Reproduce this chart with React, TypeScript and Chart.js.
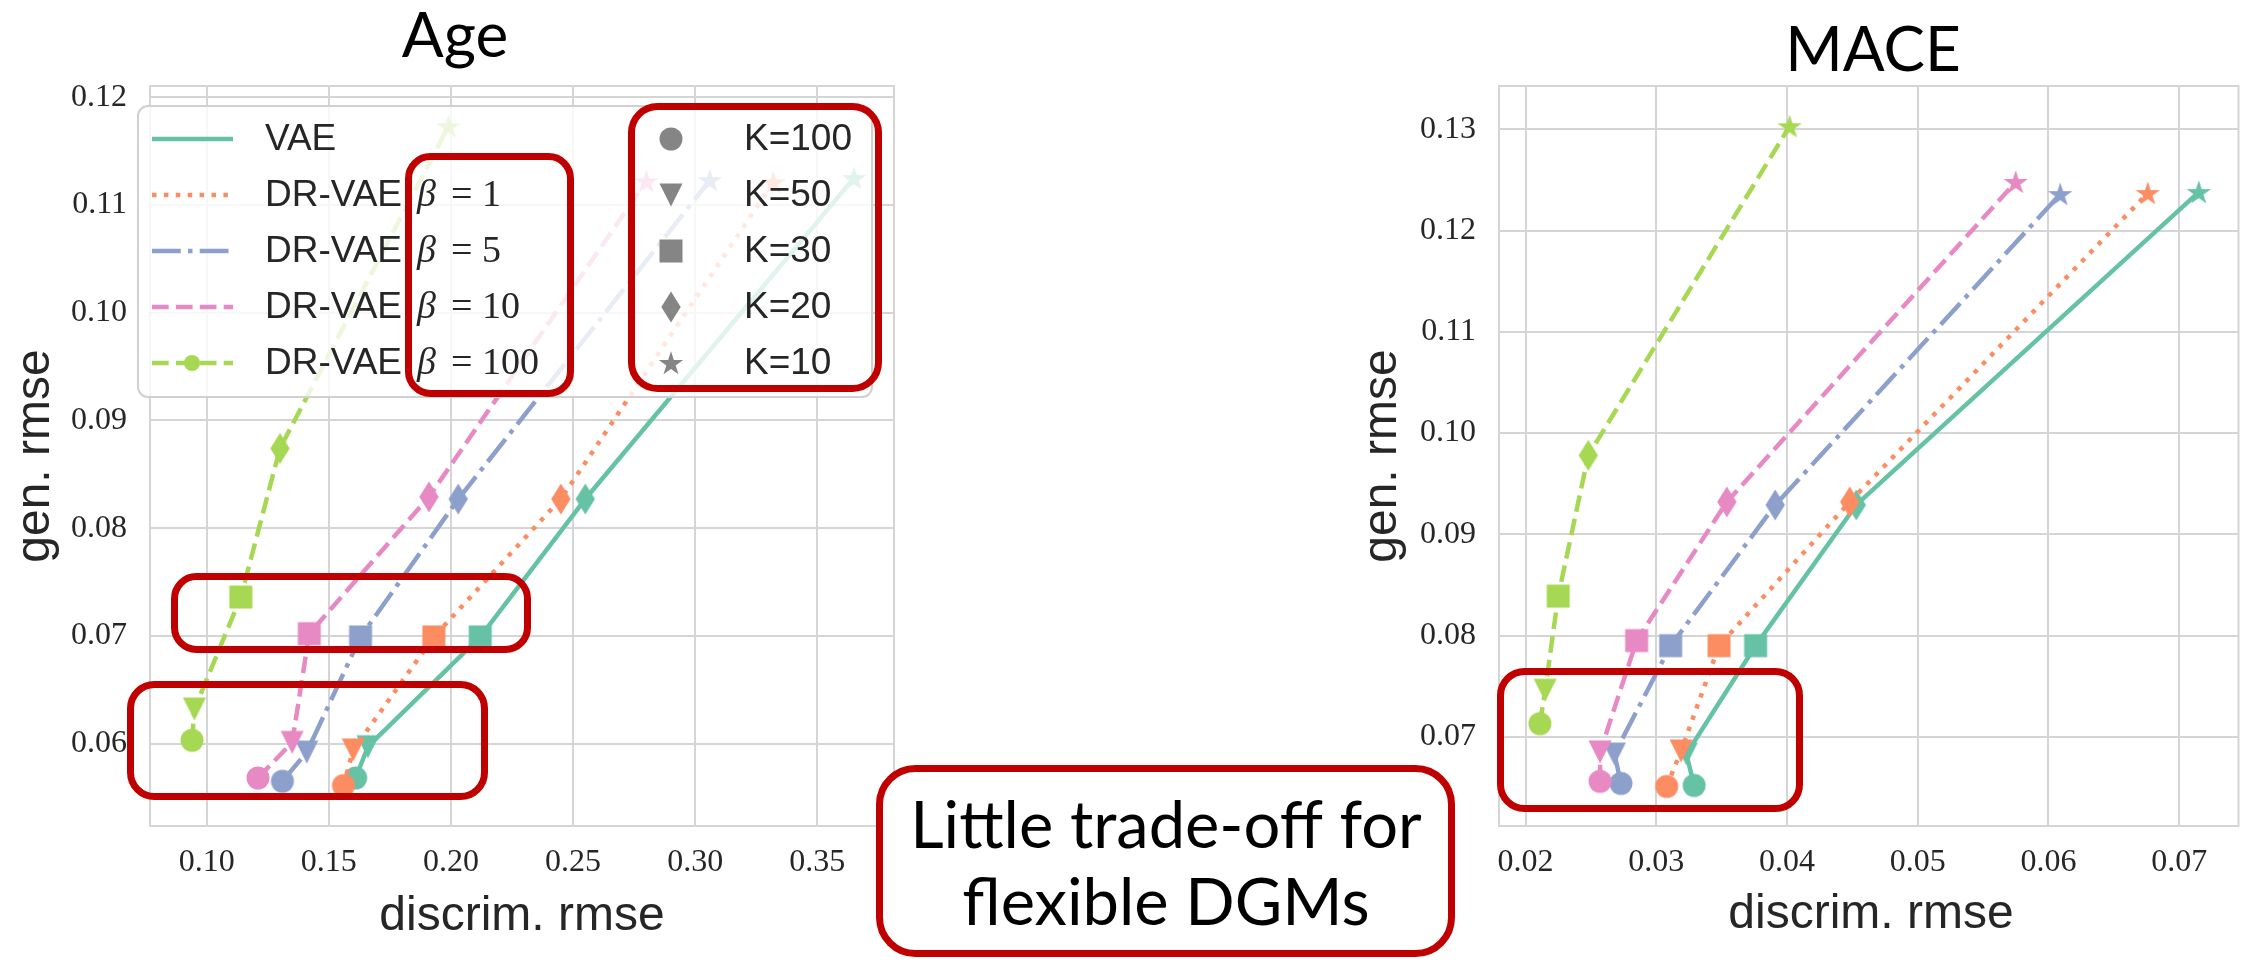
import React, { useEffect, useRef } from 'react';
import { Chart, registerables } from 'chart.js';

Chart.register(...registerables);

const PAGE_W = 2249;
const PAGE_H = 962;

// ---------- data ----------
const seriesNames = ['VAE', 'DR-VAE', 'DR-VAE', 'DR-VAE', 'DR-VAE'];
const betaValues = ['', '1', '5', '10', '100'];
const kLabels = ['K=100', 'K=50', 'K=30', 'K=20', 'K=10'];
const colors = ['#66c2a5', '#fc8d62', '#8da0cb', '#e78ac3', '#a6d854'];

// Age panel (x: discrim. rmse, y: gen. rmse), points ordered K=100,50,30,20,10
const ageVaeX = [0.161, 0.166, 0.212, 0.255, 0.365];
const ageVaeY = [0.0568, 0.0597, 0.0699, 0.0827, 0.1125];
const ageB1X = [0.156, 0.160, 0.193, 0.245, 0.332];
const ageB1Y = [0.0561, 0.0594, 0.0699, 0.0827, 0.1121];
const ageB5X = [0.131, 0.141, 0.163, 0.203, 0.306];
const ageB5Y = [0.0565, 0.0592, 0.0699, 0.0827, 0.1123];
const ageB10X = [0.121, 0.135, 0.142, 0.191, 0.280];
const ageB10Y = [0.0568, 0.0601, 0.0702, 0.0829, 0.1122];
const ageB100X = [0.094, 0.095, 0.114, 0.130, 0.199];
const ageB100Y = [0.0603, 0.0632, 0.0736, 0.0874, 0.1173];

// MACE panel
const maceVaeX = [0.0329, 0.0323, 0.0376, 0.0453, 0.0715];
const maceVaeY = [0.0652, 0.0683, 0.0790, 0.0929, 0.1238];
const maceB1X = [0.0308, 0.0319, 0.0348, 0.0448, 0.0676];
const maceB1Y = [0.0651, 0.0686, 0.0790, 0.0932, 0.1237];
const maceB5X = [0.0273, 0.0268, 0.0311, 0.0391, 0.0609];
const maceB5Y = [0.0654, 0.0683, 0.0790, 0.0929, 0.1236];
const maceB10X = [0.0257, 0.0257, 0.0285, 0.0354, 0.0575];
const maceB10Y = [0.0656, 0.0685, 0.0795, 0.0932, 0.1248];
const maceB100X = [0.0211, 0.0215, 0.0225, 0.0248, 0.0402];
const maceB100Y = [0.0713, 0.0746, 0.0839, 0.0978, 0.1303];

const ageXTicks = [0.10, 0.15, 0.20, 0.25, 0.30, 0.35];
const ageYTicks = [0.06, 0.07, 0.08, 0.09, 0.10, 0.11, 0.12];
const maceXTicks = [0.02, 0.03, 0.04, 0.05, 0.06, 0.07];
const maceYTicks = [0.07, 0.08, 0.09, 0.10, 0.11, 0.12, 0.13];

const ageXRange = [0.0768, 0.3814];
const ageYRange = [0.05234, 0.12105];
const maceXRange = [0.01797, 0.07454];
const maceYRange = [0.06119, 0.13428];

const titles = ['Age', 'MACE'];
const xAxisTitle = 'discrim. rmse';
const yAxisTitle = 'gen. rmse';
const noteLines = ['Little trade-off for', 'flexible DGMs'];

// ---------- styles ----------
const LW = 4.5;
const dashes: number[][] = [[], [4.5, 7.4], [28.8, 7.2, 4.5, 7.2], [16.7, 7.2], [16.7, 7.2]];
const markerShapes = ['circle', 'tri', 'square', 'diamond', 'star'];
const GRID = '#d5d5d5';
const TEXT = '#262626';
const RED = '#c00000';

function markerCanvas(shape: string, color: string): HTMLCanvasElement {
  const c = document.createElement('canvas');
  const S = 36;
  c.width = S;
  c.height = S;
  const g = c.getContext('2d')!;
  g.fillStyle = color;
  const cx = S / 2, cy = S / 2;
  g.beginPath();
  if (shape === 'circle') {
    g.arc(cx, cy, 11.5, 0, Math.PI * 2);
  } else if (shape === 'tri') {
    g.moveTo(cx - 11.5, cy - 11.5);
    g.lineTo(cx + 11.5, cy - 11.5);
    g.lineTo(cx, cy + 11.5);
  } else if (shape === 'square') {
    g.rect(cx - 11.5, cy - 11.5, 23, 23);
  } else if (shape === 'diamond') {
    g.moveTo(cx, cy - 15.5);
    g.lineTo(cx + 9.7, cy);
    g.lineTo(cx, cy + 15.5);
    g.lineTo(cx - 9.7, cy);
  } else {
    for (let k = 0; k < 10; k++) {
      const r = k % 2 === 0 ? 12.8 : 12.8 * 0.381966;
      const a = -Math.PI / 2 + (k * Math.PI) / 5;
      const px = cx + r * Math.cos(a);
      const py = cy + 1 + r * Math.sin(a);
      if (k === 0) g.moveTo(px, py);
      else g.lineTo(px, py);
    }
  }
  g.closePath();
  g.fill();
  return c;
}

function roundRectPath(ctx: CanvasRenderingContext2D, x: number, y: number, w: number, h: number, r: number) {
  ctx.beginPath();
  ctx.moveTo(x + r, y);
  ctx.lineTo(x + w - r, y);
  ctx.arcTo(x + w, y, x + w, y + r, r);
  ctx.lineTo(x + w, y + h - r);
  ctx.arcTo(x + w, y + h, x + w - r, y + h, r);
  ctx.lineTo(x + r, y + h);
  ctx.arcTo(x, y + h, x, y + h - r, r);
  ctx.lineTo(x, y + r);
  ctx.arcTo(x, y, x + r, y, r);
  ctx.closePath();
}

const framePlugin = {
  id: 'frame',
  beforeDatasetsDraw(chart: any) {
    const { ctx, chartArea: a } = chart;
    ctx.save();
    ctx.strokeStyle = GRID;
    ctx.lineWidth = 2;
    ctx.strokeRect(a.left, a.top, a.right - a.left, a.bottom - a.top);
    ctx.restore();
  },
};

function makeLegendPlugin() {
  const grayMarkers = markerShapes.map((s) => markerCanvas(s, '#858585'));
  const greenDot = (() => {
    const c = document.createElement('canvas');
    c.width = 30; c.height = 30;
    const g = c.getContext('2d')!;
    g.fillStyle = colors[4];
    g.beginPath(); g.arc(15, 15, 8, 0, Math.PI * 2); g.fill();
    return c;
  })();
  return {
    id: 'customLegend',
    afterDatasetsDraw(chart: any) {
      const ctx: CanvasRenderingContext2D = chart.ctx;
      ctx.save();
      roundRectPath(ctx, 138, 106, 734, 291, 10);
      ctx.fillStyle = 'rgba(255,255,255,0.8)';
      ctx.fill();
      ctx.strokeStyle = '#d0d0d0';
      ctx.lineWidth = 2;
      ctx.stroke();
      const rowY = [139, 195, 251, 307, 363];
      for (let i = 0; i < 5; i++) {
        const y = rowY[i];
        // line sample
        ctx.strokeStyle = colors[i];
        ctx.lineWidth = LW;
        ctx.lineCap = 'butt';
        ctx.setLineDash(dashes[i]);
        ctx.beginPath();
        ctx.moveTo(152, y);
        ctx.lineTo(233, y);
        ctx.stroke();
        ctx.setLineDash([]);
        if (i === 4) ctx.drawImage(greenDot, 192 - 15, y - 15);
        // label
        ctx.fillStyle = TEXT;
        ctx.textAlign = 'left';
        ctx.textBaseline = 'alphabetic';
        ctx.font = '37px "Liberation Sans"';
        ctx.fillText(seriesNames[i], 265, y + 11);
        if (betaValues[i]) {
          ctx.font = 'italic 38px "Liberation Serif"';
          ctx.fillText('\u03b2', 417, y + 11);
          ctx.font = '38px "Liberation Serif"';
          ctx.fillText('= ' + betaValues[i], 451, y + 11);
        }
        // K marker + label
        const m = grayMarkers[i];
        ctx.drawImage(m, 671 - m.width / 2, y - m.height / 2);
        ctx.font = '37px "Liberation Sans"';
        ctx.fillText(kLabels[i], 744, y + 11);
      }
      ctx.restore();
    },
  };
}

function buildConfig(
  xs: number[][], ys: number[][], xRange: number[], yRange: number[],
  xTicks: number[], yTicks: number[], padRight: number, yAxisW: number, withLegend: boolean,
) {
  const datasets = xs.map((xv, i) => ({
    label: seriesNames[i] + (betaValues[i] ? ' beta=' + betaValues[i] : ''),
    data: xv.map((x, j) => ({ x, y: ys[i][j] })),
    borderColor: colors[i],
    backgroundColor: colors[i],
    borderWidth: LW,
    borderDash: dashes[i],
    borderCapStyle: 'butt',
    borderJoinStyle: 'round',
    pointStyle: markerShapes.map((s) => markerCanvas(s, colors[i])),
    pointRadius: 6,
    pointHoverRadius: 6,
    tension: 0,
    fill: false,
    order: 5 - i,
  }));
  const tickFont = { family: '"Liberation Serif", serif', size: 32 };
  return {
    type: 'line',
    data: { datasets },
    options: {
      animation: false,
      responsive: false,
      devicePixelRatio: 1,
      events: [],
      layout: { padding: { top: 86, right: padRight, left: 0, bottom: 0 } },
      plugins: { legend: { display: false }, tooltip: { enabled: false }, title: { display: false } },
      scales: {
        x: {
          type: 'linear',
          min: xRange[0],
          max: xRange[1],
          afterBuildTicks: (s: any) => { s.ticks = xTicks.map((v) => ({ value: v })); },
          afterFit: (s: any) => { s.height = 136; },
          grid: { color: GRID, lineWidth: 2, drawTicks: false },
          border: { display: false },
          ticks: {
            font: tickFont, color: TEXT, padding: 17, maxRotation: 0, autoSkip: false,
            callback: (v: any) => Number(v).toFixed(2),
          },
        },
        y: {
          type: 'linear',
          min: yRange[0],
          max: yRange[1],
          afterBuildTicks: (s: any) => { s.ticks = yTicks.map((v) => ({ value: v })); },
          afterFit: (s: any) => { s.width = yAxisW; },
          grid: { color: GRID, lineWidth: 2, drawTicks: false },
          border: { display: false },
          ticks: {
            font: tickFont, color: TEXT, padding: 23, autoSkip: false,
            callback: (v: any) => Number(v).toFixed(2),
          },
        },
      },
    },
    plugins: withLegend ? [framePlugin, makeLegendPlugin()] : [framePlugin],
  };
}

function drawOverlay(ctx: CanvasRenderingContext2D) {
  ctx.clearRect(0, 0, PAGE_W, PAGE_H);
  ctx.textBaseline = 'alphabetic';
  ctx.textAlign = 'center';
  // titles
  ctx.fillStyle = '#000';
  ctx.font = '62px Lato';
  ctx.fillText(titles[0], 455, 57);
  ctx.fillText(titles[1], 1873, 71);
  // axis titles
  ctx.fillStyle = TEXT;
  ctx.font = '48px "Liberation Sans"';
  ctx.fillText(xAxisTitle, 522, 930);
  ctx.fillText(xAxisTitle, 1871, 928);
  ctx.save();
  ctx.translate(49, 456);
  ctx.rotate(-Math.PI / 2);
  ctx.fillText(yAxisTitle, 0, 0);
  ctx.restore();
  ctx.save();
  ctx.translate(1396, 456);
  ctx.rotate(-Math.PI / 2);
  ctx.fillText(yAxisTitle, 0, 0);
  ctx.restore();
  // red highlight boxes (outer edges)
  const boxes = [
    [405, 153, 574, 397, 22],
    [628, 103, 882, 392, 26],
    [171, 573, 531, 653, 22],
    [127, 681, 488, 800, 24],
    [1497, 668, 1803, 812, 24],
  ];
  ctx.strokeStyle = RED;
  ctx.lineWidth = 7;
  for (const [x0, y0, x1, y1, r] of boxes) {
    roundRectPath(ctx, x0 + 3.5, y0 + 3.5, x1 - x0 - 7, y1 - y0 - 7, r);
    ctx.stroke();
  }
  // note box
  roundRectPath(ctx, 876 + 3.5, 765 + 3.5, 1455 - 876 - 7, 957 - 765 - 7, 36);
  ctx.fillStyle = '#fff';
  ctx.fill();
  ctx.stroke();
  ctx.fillStyle = '#000';
  ctx.font = '65px Lato';
  ctx.fillText(noteLines[0], 1166, 848);
  ctx.fillText(noteLines[1], 1166, 925);
}

export default function App() {
  const leftRef = useRef<HTMLCanvasElement>(null);
  const rightRef = useRef<HTMLCanvasElement>(null);
  const overRef = useRef<HTMLCanvasElement>(null);

  useEffect(() => {
    document.body.style.margin = '0';
    document.body.style.overflow = 'hidden';
    const left = new Chart(leftRef.current!, buildConfig(
      [ageVaeX, ageB1X, ageB5X, ageB10X, ageB100X],
      [ageVaeY, ageB1Y, ageB5Y, ageB10Y, ageB100Y],
      ageXRange, ageYRange, ageXTicks, ageYTicks, 66, 150, true,
    ) as any);
    const right = new Chart(rightRef.current!, buildConfig(
      [maceVaeX, maceB1X, maceB5X, maceB10X, maceB100X],
      [maceVaeY, maceB1Y, maceB5Y, maceB10Y, maceB100Y],
      maceXRange, maceYRange, maceXTicks, maceYTicks, 6, 199, false,
    ) as any);
    const octx = overRef.current!.getContext('2d')!;
    drawOverlay(octx);
    return () => {
      left.destroy();
      right.destroy();
    };
  }, []);

  return (
    <div style={{ position: 'absolute', left: 0, top: 0, width: PAGE_W, height: PAGE_H, background: '#fff' }}>
      <canvas ref={leftRef} width={960} height={PAGE_H}
        style={{ position: 'absolute', left: 0, top: 0, width: 960, height: PAGE_H }} />
      <canvas ref={rightRef} width={949} height={PAGE_H}
        style={{ position: 'absolute', left: 1300, top: 0, width: 949, height: PAGE_H }} />
      <canvas ref={overRef} width={PAGE_W} height={PAGE_H}
        style={{ position: 'absolute', left: 0, top: 0, width: PAGE_W, height: PAGE_H, pointerEvents: 'none' }} />
    </div>
  );
}
